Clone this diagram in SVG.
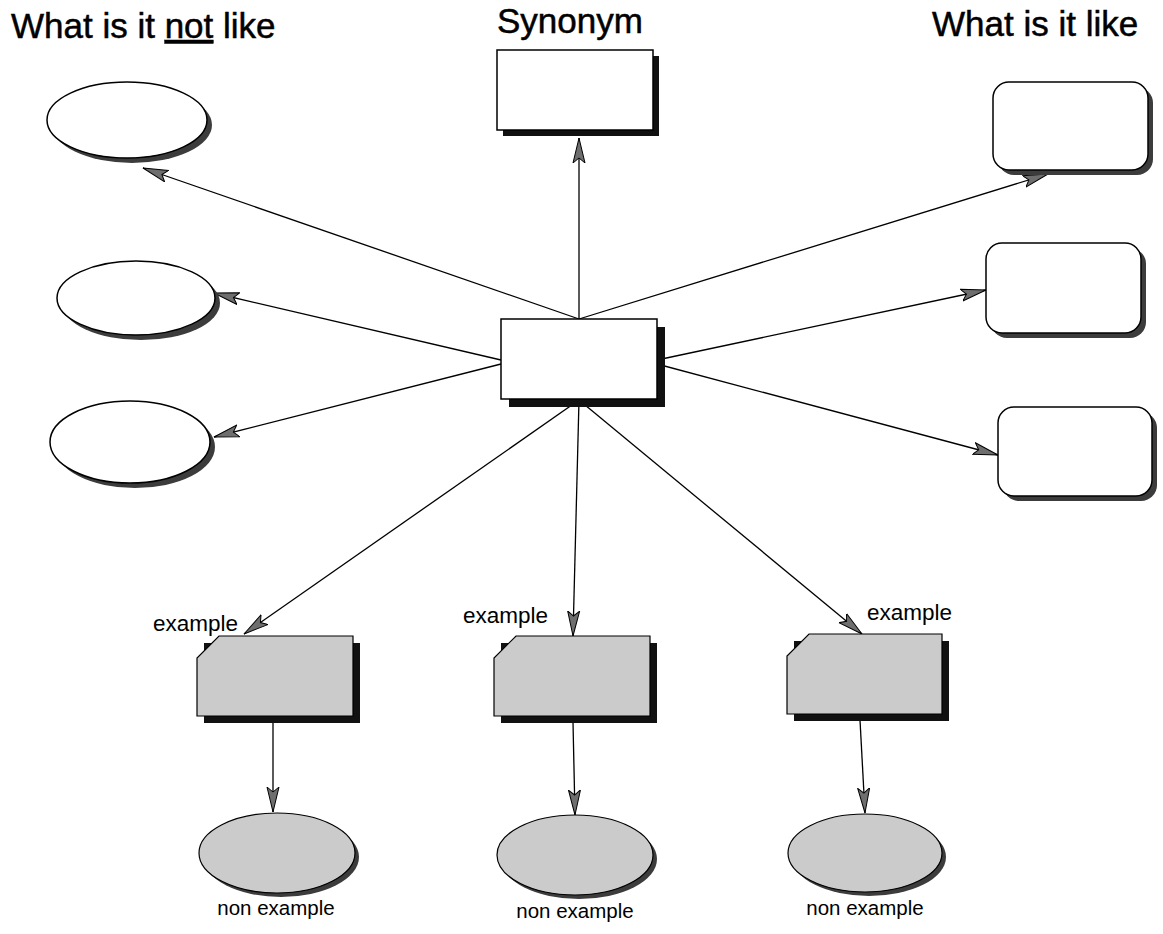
<svg xmlns="http://www.w3.org/2000/svg" width="1163" height="934" viewBox="0 0 1163 934">
<style>
.title{font-family:"Liberation Sans",Arial,sans-serif;font-size:35px;fill:#000;stroke:#000;stroke-width:0.5}
.lbl{font-family:"Liberation Sans",Arial,sans-serif;font-size:22.5px;fill:#000}
.nlbl{font-family:"Liberation Sans",Arial,sans-serif;font-size:20.5px;fill:#000}
.node{fill:#fff;stroke:#000;stroke-width:1.5}
.gnode{fill:#cbcbcb;stroke:#000;stroke-width:1.2}
.shd{fill:#111}
.gshd{fill:#3c3c3c}
.conn{stroke:#000;stroke-width:1.3;fill:none;marker-end:url(#ah)}
</style>
<defs>
<marker id="ah" markerUnits="userSpaceOnUse" markerWidth="28" markerHeight="14" refX="25" refY="7" orient="auto">
<path d="M0,1 L25,7 L0,13 L5,7 z" fill="#6e6e6e" stroke="#000" stroke-width="1"/>
</marker>
</defs>
<rect width="1163" height="934" fill="#fff"/>

<g id="titles">
<text class="title" x="11" y="38">What is it <tspan text-decoration="underline">not</tspan> like</text>
<text class="title" x="497" y="33">Synonym</text>
<text class="title" x="932" y="36">What is it like</text>
</g>

<g id="connectors">
<line class="conn" x1="579" y1="319" x2="579" y2="138"/>
<line class="conn" x1="579" y1="319" x2="143" y2="168"/>
<line class="conn" x1="579" y1="319" x2="1048" y2="174"/>
<line class="conn" x1="501" y1="360" x2="214" y2="293"/>
<line class="conn" x1="501" y1="364" x2="214" y2="437"/>
<line class="conn" x1="657" y1="360" x2="986" y2="290"/>
<line class="conn" x1="657" y1="364" x2="998" y2="455"/>
<line class="conn" x1="579" y1="400" x2="244" y2="634"/>
<line class="conn" x1="579" y1="400" x2="573" y2="636"/>
<line class="conn" x1="579" y1="400" x2="862" y2="634"/>
<line class="conn" x1="273" y1="722" x2="273" y2="812"/>
<line class="conn" x1="573" y1="722" x2="575" y2="815"/>
<line class="conn" x1="860" y1="720" x2="865" y2="813"/>
</g>

<g id="center">
<rect class="shd" x="509" y="327" width="156" height="80"/>
<rect class="node" x="501" y="319" width="156" height="80"/>
</g>

<g id="synonym">
<rect class="shd" x="503" y="56" width="156" height="80"/>
<rect class="node" x="497" y="50" width="156" height="80"/>
</g>

<g id="like1">
<rect class="gshd" x="998" y="87" width="155" height="88" rx="16"/>
<rect class="node" x="993" y="82" width="155" height="88" rx="16"/>
</g>
<g id="like2">
<rect class="gshd" x="991" y="248" width="155" height="90" rx="16"/>
<rect class="node" x="986" y="243" width="155" height="90" rx="16"/>
</g>
<g id="like3">
<rect class="gshd" x="1003" y="412" width="154" height="89" rx="16"/>
<rect class="node" x="998" y="407" width="154" height="89" rx="16"/>
</g>

<g id="notlike1">
<ellipse class="gshd" cx="132" cy="125" rx="80" ry="38"/>
<ellipse class="node" cx="127" cy="120" rx="80" ry="38"/>
</g>
<g id="notlike2">
<ellipse class="gshd" cx="141" cy="303" rx="79" ry="37"/>
<ellipse class="node" cx="136" cy="298" rx="79" ry="37"/>
</g>
<g id="notlike3">
<ellipse class="gshd" cx="135" cy="447" rx="80" ry="41"/>
<ellipse class="node" cx="130" cy="442" rx="80" ry="41"/>
</g>

<g id="example1">
<rect class="shd" x="204" y="643" width="156" height="80"/>
<path class="gnode" d="M219,636 L353,636 L353,716 L197,716 L197,658 Z"/>
<text class="lbl" x="153" y="631">example</text>
</g>
<g id="example2">
<rect class="shd" x="501" y="643" width="156" height="80"/>
<path class="gnode" d="M516,636 L650,636 L650,716 L494,716 L494,658 Z"/>
<text class="lbl" x="463" y="623">example</text>
</g>
<g id="example3">
<rect class="shd" x="794" y="641" width="155" height="80"/>
<path class="gnode" d="M809,634 L942,634 L942,714 L787,714 L787,656 Z"/>
<text class="lbl" x="867" y="620">example</text>
</g>

<g id="nonexample1">
<ellipse class="gshd" cx="281" cy="857" rx="78" ry="40"/>
<ellipse class="gnode" cx="277" cy="853" rx="78" ry="40"/>
<text class="nlbl" x="276" y="915" text-anchor="middle">non example</text>
</g>
<g id="nonexample2">
<ellipse class="gshd" cx="579" cy="859" rx="78" ry="40"/>
<ellipse class="gnode" cx="575" cy="855" rx="78" ry="40"/>
<text class="nlbl" x="575" y="918" text-anchor="middle">non example</text>
</g>
<g id="nonexample3">
<ellipse class="gshd" cx="869" cy="857" rx="77" ry="39"/>
<ellipse class="gnode" cx="865" cy="853" rx="77" ry="39"/>
<text class="nlbl" x="865" y="915" text-anchor="middle">non example</text>
</g>
</svg>
